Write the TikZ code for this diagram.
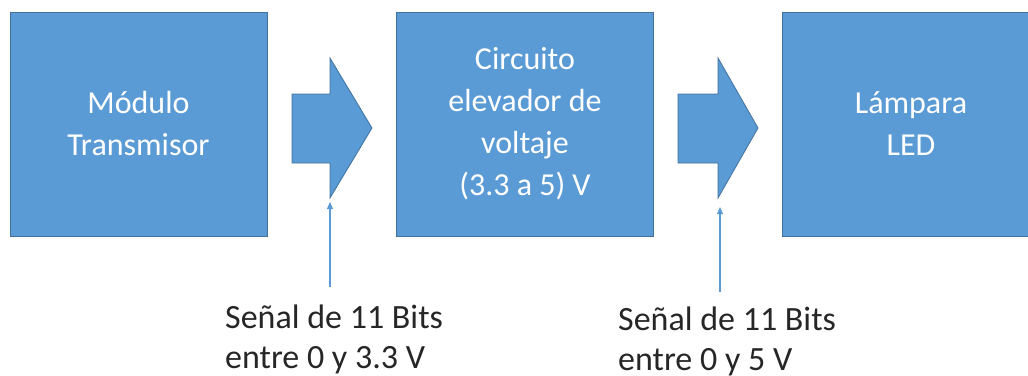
\documentclass[tikz,border=0pt]{standalone}
\usepackage{fontspec}
\setmainfont{Carlito}
\usetikzlibrary{arrows.meta}
\definecolor{blockblue}{HTML}{5B9BD5}
\definecolor{blockedge}{HTML}{41719C}

\begin{document}
\begin{tikzpicture}[x=1pt, y=-1pt,
    block/.style={draw=blockedge, fill=blockblue, line width=0.8pt,
        minimum width=257pt, minimum height=224pt, inner sep=0pt,
        align=center, text=white, font=\fontsize{32}{42}\selectfont},
    flow/.style={draw=blockedge, fill=blockblue, line width=0.8pt},
    signal/.style={draw=blockblue, line width=1.2pt, -{Triangle[length=7pt, width=6pt]}},
    note/.style={anchor=north west, inner sep=0pt, align=left,
        text=black!85, font=\fontsize{34}{40}\selectfont}]
    \useasboundingbox (0,0) rectangle (1028,375);

    % Blocks
    \node[block] (tx) at (138.5,124) {Módulo\\Transmisor};
    \node[block] (boost) at (525,124) {Circuito\\elevador de\\voltaje\\(3.3 a 5) V};
    \node[block] (lamp) at (911,124) {Lámpara\\LED};

    % Flow arrows
    \draw[flow] (292,94) -- (330,94) -- (330,58) -- (372,128) -- (330,198) -- (330,163) -- (292,163) -- cycle;
    \draw[flow] (678,94) -- (718,94) -- (718,58) -- (758,128) -- (718,198) -- (718,163) -- (678,163) -- cycle;

    % Signals
    \node[note] (sig1) at (225,305) {Señal de 11 Bits\\entre 0 y 3.3 V};
    \node[note] (sig2) at (618,307) {Señal de 11 Bits\\entre 0 y 5 V};
    \coordinate (s1) at (330,287);
    \coordinate (e1) at (330,202);
    \coordinate (s2) at (720,292);
    \coordinate (e2) at (720,207);
    \draw[signal] (s1) -- (e1);
    \draw[signal] (s2) -- (e2);
\end{tikzpicture}
\end{document}
